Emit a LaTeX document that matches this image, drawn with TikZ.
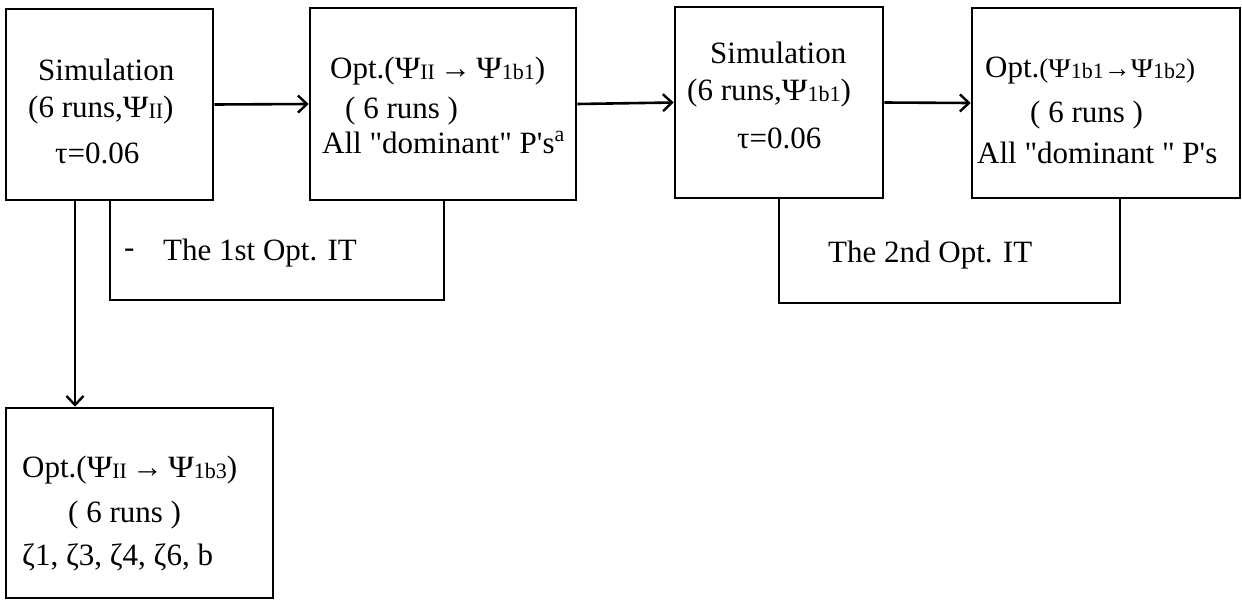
\documentclass[tikz,border=0pt]{standalone}
\usepackage{fontspec}
\setmainfont{Liberation Serif}[Ligatures=TeXOff]
\usetikzlibrary{arrows.meta}
\newcommand{\sbx}[1]{\raisebox{-1pt}{\fontsize{22}{22}\selectfont #1}}
\newcommand{\sby}[1]{\raisebox{-1pt}{\fontsize{22}{22}\selectfont #1}}
\newcommand{\psiw}{\scalebox{1.12}[1]{Ψ}}
\begin{document}
\begin{tikzpicture}[x=1pt,y=-1pt,
  box/.style={draw, line width=2.6pt, rectangle, inner sep=0pt},
  lbl/.style={anchor=base west, inner sep=0pt, font=\fontsize{31}{37}\selectfont},
  wire/.style={line width=2.6pt},
  arr/.style={line width=2.6pt, -{Straight Barb[length=9pt,width=17pt,line width=2.4pt]}}]
\useasboundingbox (0,0) rectangle (1242,600);
% boxes
\node[box, minimum width=207pt, minimum height=191pt] (simA) at (109.5,104.5) {};
\node[box, minimum width=266pt, minimum height=192pt] (optB) at (443,104) {};
\node[box, minimum width=208pt, minimum height=191pt] (simC) at (779,102.5) {};
\node[box, minimum width=268pt, minimum height=190pt] (optD) at (1106,103) {};
\node[box, minimum width=267pt, minimum height=190pt] (optE) at (139.5,503) {};
% texts box A
\node[lbl] (a1) at (38,80) {Simulation};
\node[lbl] (a2) at (28,117) {(6 runs,\psiw\sbx{II})};
\node[lbl] (a3) at (55,163) {τ=0.06};
% texts box B
\node[lbl] (b1) at (330,78) {Opt.(\psiw\sbx{II}\,→\,\psiw\sbx{1b1})};
\node[lbl] (b2) at (345,118) {( 6 runs )};
\node[lbl] (b3) at (322,153) {All "dominant" P's\raisebox{12pt}{\fontsize{22}{22}\selectfont a}};
% texts box C
\node[lbl] (c1) at (710,63) {Simulation};
\node[lbl] (c2) at (687,100) {(6 runs,\psiw\sbx{1b1})};
\node[lbl] (c3) at (737,148) {τ=0.06};
% texts box D
\node[lbl] (d1) at (985,77) {Opt.{\fontsize{27}{27}\selectfont(\psiw\sby{1b1}→\psiw\sby{1b2})}};
\node[lbl] (d2) at (1030,122) {( 6 runs )};
\node[lbl] (d3) at (977,163) {All "dominant " P's};
% texts box E
\node[lbl] (e1) at (22,477) {Opt.(\psiw\sbx{II}\,→\,\psiw\sbx{1b3})};
\node[lbl] (e2) at (68,522) {( 6 runs )};
\node[lbl] (e3) at (22,565) {ζ1, ζ3, ζ4, ζ6, b};
% bracket labels
\node[lbl] (dash1) at (124,257) {-};
\node[lbl] (it1) at (163,260) {The 1st Opt. IT};
\node[lbl] (it2) at (828,262) {The 2nd Opt. IT};
% connectors
\draw[arr] (simA.east) -- (optB.west);
\draw[arr] (optB.east) -- (simC.west);
\draw[arr] (simC.east) -- (optD.west);
\coordinate (dx) at (75,0);
\draw[arr] (simA.south -| dx) -- (optE.north -| dx);
\coordinate (b1l) at (110,300);
\coordinate (b1r) at (444,300);
\draw[wire] (simA.south -| b1l) -- (b1l) -- (b1r) -- (optB.south -| b1r);
\coordinate (b2l) at (779,303);
\coordinate (b2r) at (1120,303);
\draw[wire] (simC.south -| b2l) -- (b2l) -- (b2r) -- (optD.south -| b2r);
\end{tikzpicture}
\end{document}
